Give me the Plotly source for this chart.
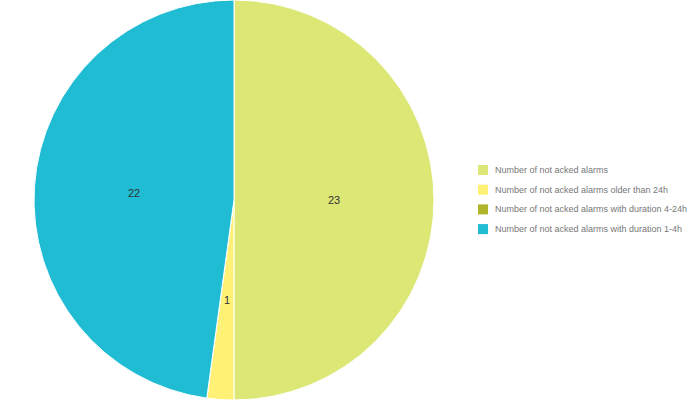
import math
import plotly.graph_objects as go

labels = [
    "Number of not acked alarms",
    "Number of not acked alarms older than 24h",
    "Number of not acked alarms with duration 4-24h",
    "Number of not acked alarms with duration 1-4h",
]
values = [23, 1, 0, 22]
colors = ["#dce775", "#fff176", "#afb42b", "#1fbcd3"]

W, H = 700, 400
cx, cy, R = 234, 200, 200
dom_x = [(cx - R) / W, (cx + R) / W]

fig = go.Figure(go.Pie(
    labels=labels, values=values, sort=False, direction="clockwise", rotation=0,
    marker=dict(colors=colors, line=dict(color="white", width=1)),
    textinfo="none", hoverinfo="label+value",
    domain=dict(x=dom_x, y=[0, 1]),
))

total = sum(values)
cum = 0
annotations = []
for v in values:
    if v > 0:
        mid = (cum + v / 2) / total * 2 * math.pi
        px = cx + 0.5 * R * math.sin(mid)
        py = cy - 0.5 * R * math.cos(mid)
        annotations.append(dict(
            x=px / W, y=1 - py / H, xref="paper", yref="paper", text=str(v),
            xanchor="center", yanchor="middle",
            showarrow=False, font=dict(size=11, color="#333", family="Liberation Sans, Arial"),
        ))
    cum += v

# custom legend (Chart.js style)
shapes = []
lx, ly0, dy, box = 478, 170, 19.7, 10
for i, (lab, col) in enumerate(zip(labels, colors)):
    yc = ly0 + i * dy
    shapes.append(dict(type="rect", xref="paper", yref="paper",
                       x0=lx / W, x1=(lx + box) / W,
                       y0=1 - (yc + box / 2) / H, y1=1 - (yc - box / 2) / H,
                       fillcolor=col, line=dict(width=0)))
    annotations.append(dict(x=(lx + box + 5) / W, y=1 - yc / H, xref="paper", yref="paper",
                            text=lab, showarrow=False, xanchor="left", yanchor="middle",
                            font=dict(size=9, color="#777", family="Liberation Sans, Arial")))

fig.update_layout(
    width=W, height=H, margin=dict(l=0, r=0, t=0, b=0),
    paper_bgcolor="white", plot_bgcolor="white",
    annotations=annotations, shapes=shapes, showlegend=False,
)
fig.write_html("out.html", config={"displayModeBar": False},
               post_script="document.body.style.margin='0';document.body.style.overflow='hidden';")
